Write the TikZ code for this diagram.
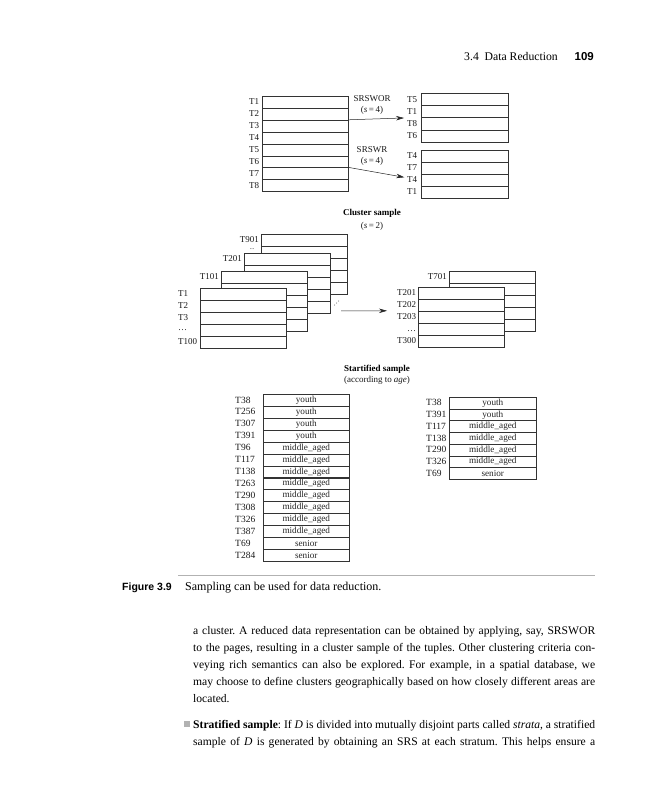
\documentclass[tikz,border=0pt]{standalone}
\usepackage{fontspec}
\setmainfont{Liberation Serif}
\newfontfamily\capsans{Liberation Sans}
\usetikzlibrary{arrows.meta}
\begin{document}
\frenchspacing
\begin{tikzpicture}[x=1pt,y=-1pt,
 cell/.style={draw=black!80, line width=0.55pt, fill=white, minimum width=86pt, minimum height=11.9pt, inner sep=0pt, anchor=north west, font=\fontsize{9.2}{10}\selectfont, text=black!85},
 lab/.style={inner sep=0pt, font=\fontsize{9}{10}\selectfont, text=black!90},
 slab/.style={inner sep=0pt, font=\fontsize{9.5}{10}\selectfont, text=black!90},
 ttl/.style={inner sep=0pt, font=\fontsize{9}{10}\selectfont\bfseries},
 arr/.style={-{Stealth[length=8pt,width=4.5pt]}, line width=0.5pt, draw=black!85},
 body/.style={inner sep=0pt, anchor=base west, font=\fontsize{11.6}{17}\selectfont},
]
\useasboundingbox[fill=white] (0,0) rectangle (648,800);

% header
\node[anchor=base east, inner sep=0pt, font=\fontsize{11.7}{13}\selectfont] (hd) at (558,61) {3.4\enspace Data Reduction};
\node[anchor=base east, inner sep=0pt, font=\fontsize{11.5}{13}\selectfont\capsans\bfseries] (pg) at (594,61) {109};

% ---- SRSWOR / SRSWR ----
\foreach \t [count=\i] in {T1,T2,T3,T4,T5,T6,T7,T8}{
  \node[cell] (a\i) at (262,{96+(\i-1)*11.9}) {};
  \node[lab,anchor=west] (al\i) at (249,{96+(\i-0.5)*11.9}) {\t};
}
\foreach \t [count=\i] in {T5,T1,T8,T6}{
  \node[cell,minimum height=12.2pt,minimum width=87pt] (b\i) at (421,{93+(\i-1)*12.2}) {};
  \node[lab,anchor=west] (bl\i) at (407,{93+(\i-0.5)*12.2}) {\t};
}
\foreach \t [count=\i] in {T4,T7,T4,T1}{
  \node[cell,minimum height=12pt,minimum width=87pt] (c\i) at (421,{150+(\i-1)*12}) {};
  \node[lab,anchor=west] (cl\i) at (407,{150+(\i-0.5)*12}) {\t};
}
\node[lab] (wor) at (372,99) {SRSWOR};
\node[lab] (wors) at (372,110) {(\textit{s}\,=\,4)};
\node[lab] (wr) at (372,150) {SRSWR};
\node[lab] (wrs) at (372,161) {(\textit{s}\,=\,4)};
\draw[arr, shorten >=17pt] (a3.north east) -- (b3.north west);
\draw[arr, shorten >=17pt] (a7.north east) -- (c3.west);

% ---- Cluster sample ----
\node[ttl] (cst) at (372,213) {Cluster sample};
\node[lab] (css) at (372,226) {(\textit{s}\,=\,2)};

\foreach \k in {1,...,5}{\node[cell] (d\k) at (261,{234+(\k-1)*11.9}) {};}
\foreach \k in {1,...,5}{\node[cell] (e\k) at (244,{253+(\k-1)*11.9}) {};}
\foreach \k in {1,...,5}{\node[cell] (f\k) at (221,{271+(\k-1)*11.9}) {};}
\foreach \k in {1,...,5}{\node[cell] (g\k) at (200,{288+(\k-1)*11.9}) {};}
\node[lab,anchor=east] (dl) at (259,240) {T901};
\node[inner sep=0pt,font=\fontsize{6}{6}\selectfont] (ddots) at (252,249) {...};
\node[lab,anchor=east] (el) at (242,259) {T201};
\node[lab,anchor=east] (fl) at (219,277) {T101};
\foreach \t [count=\i] in {T1,T2,T3,\dots,T100}{
  \node[lab,anchor=west] (gl\i) at (178,{288+(\i-0.5)*11.9}) {\t};
}
\fill[black!70] (334.5,305) circle (0.5) (336.5,303) circle (0.5) (338.5,301) circle (0.5);

\foreach \k in {1,...,5}{\node[cell] (h\k) at (449,{271+(\k-1)*11.9}) {};}
\foreach \k in {1,...,5}{\node[cell] (k\k) at (418,{287+(\k-1)*11.9}) {};}
\node[lab,anchor=east] (hl) at (447,277) {T701};
\foreach \t [count=\i] in {T201,T202,T203,{\phantom{T2}\dots},T300}{
  \node[lab,anchor=west] (kl\i) at (397,{287+(\i-0.5)*11.9}) {\t};
}
\coordinate (cs) at (341,310.8);
\draw[arr, shorten >=31pt] (cs) -- (k3.north west);

% ---- Stratified sample ----
\node[ttl] (stt) at (377,369) {Startified sample};
\node[lab] (sts) at (377,380) {(according to \textit{age})};
\foreach \t/\v [count=\i] in {T38/youth,T256/youth,T307/youth,T391/youth,T96/middle\_aged,T117/middle\_aged,T138/middle\_aged,T263/middle\_aged,T290/middle\_aged,T308/middle\_aged,T326/middle\_aged,T387/middle\_aged,T69/senior,T284/senior}{
  \node[cell] (s\i) at (263,{394+(\i-1)*11.93}) {\v};
  \node[slab,anchor=west] (sl\i) at (235,{394+(\i-0.5)*11.93}) {\t};
}
\foreach \t/\v [count=\i] in {T38/youth,T391/youth,T117/middle\_aged,T138/middle\_aged,T290/middle\_aged,T326/middle\_aged,T69/senior}{
  \node[cell,minimum height=11.7pt,minimum width=87pt] (r\i) at (449,{397+(\i-1)*11.7}) {\v};
  \node[slab,anchor=west] (rl\i) at (426,{397+(\i-0.5)*11.7}) {\t};
}

% ---- caption ----
\draw[black!30, line width=0.5pt] (178,575) -- (595,575);
\node[anchor=base west, inner sep=0pt, font=\fontsize{10.5}{12}\selectfont\capsans\bfseries] (fig) at (122,590) {Figure 3.9};
\node[anchor=base west, inner sep=0pt, font=\fontsize{12}{14}\selectfont] (cap) at (185,590) {Sampling can be used for data reduction.};

% ---- body text ----
\node[body] (b1) at (193,634) {\hbox to 402pt{a cluster. A reduced data representation can be obtained by applying, say, SRSWOR}};
\node[body] (b2) at (193,651) {\hbox to 402pt{to the pages, resulting in a cluster sample of the tuples. Other clustering criteria con-}};
\node[body] (b3) at (193,668) {\hbox to 402pt{veying rich semantics can also be explored. For example, in a spatial database, we}};
\node[body] (b4) at (193,685) {\hbox to 402pt{may choose to define clusters geographically based on how closely different areas are}};
\node[body] (b5) at (193,702) {located.};
\fill[black!30] (184,721) rectangle (189.5,726.5);
\node[body] (b6) at (193,728) {\hbox to 402pt{\textbf{Stratified sample}: If \textit{D} is divided into mutually disjoint parts called \textit{strata}, a stratified}};
\node[body] (b7) at (193,745) {\hbox to 402pt{sample of \textit{D} is generated by obtaining an SRS at each stratum. This helps ensure a}};
\end{tikzpicture}
\end{document}
